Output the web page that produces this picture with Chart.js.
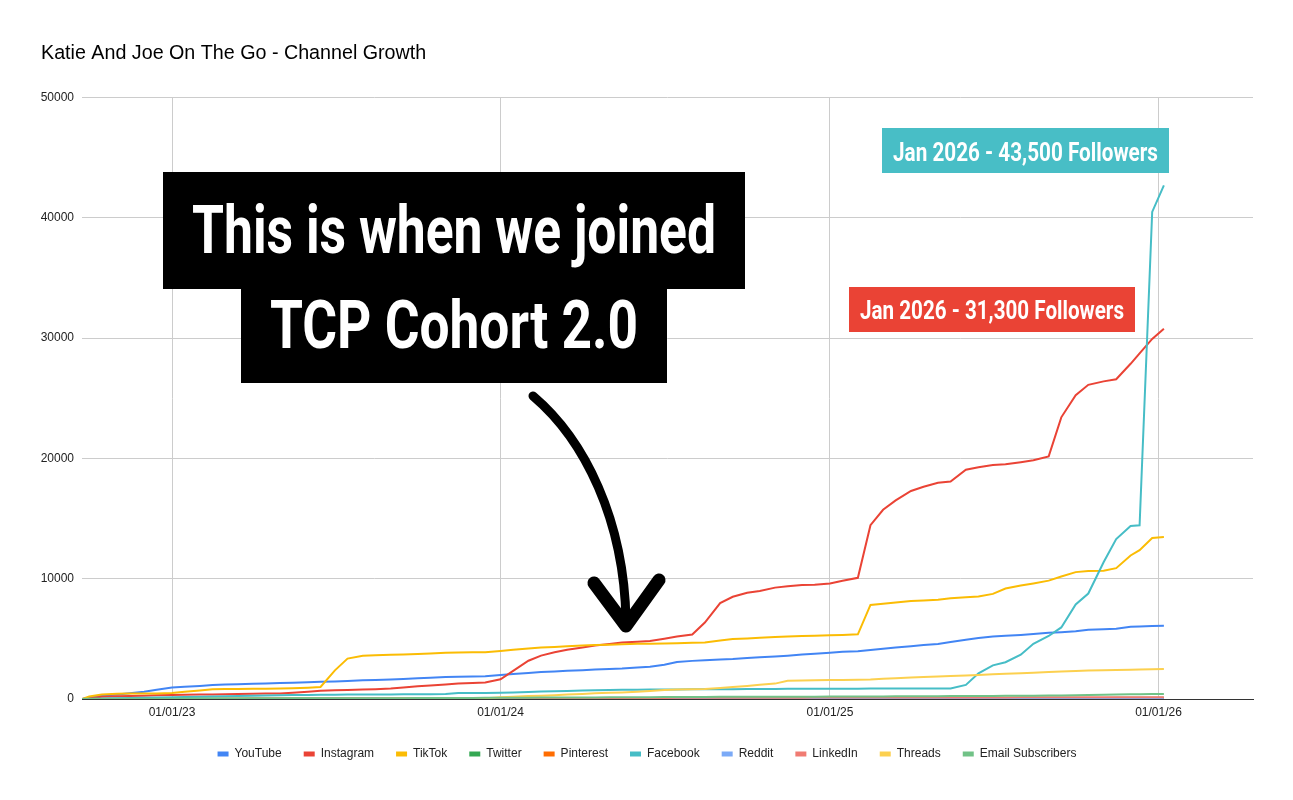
<!DOCTYPE html>
<html>
<head>
<meta charset="utf-8">
<title>Katie And Joe On The Go - Channel Growth</title>
<script src="https://cdn.jsdelivr.net/npm/chart.js@4.4.1/dist/chart.umd.min.js"></script>
<style>
  html, body { margin: 0; padding: 0; background: #fff; }
  #wrap { width: 1293px; height: 800px; }
</style>
</head>
<body>
<div id="wrap"><canvas id="myChart" width="1293" height="800"></canvas></div>
<script>
const chartTitle = 'Katie And Joe On The Go - Channel Growth';

// sample dates (roughly twice a month)
const dates = [
  '2022-09-23','2022-10-01','2022-10-15','2022-11-01','2022-11-15','2022-12-01','2022-12-15',
  '2023-01-01','2023-01-15','2023-02-01','2023-02-15','2023-03-01','2023-03-15','2023-04-01','2023-04-15',
  '2023-05-01','2023-05-15','2023-06-01','2023-06-15','2023-07-01','2023-07-15','2023-08-01','2023-08-15',
  '2023-09-01','2023-09-15','2023-10-01','2023-10-15','2023-11-01','2023-11-15','2023-12-01','2023-12-15',
  '2024-01-01','2024-01-15','2024-02-01','2024-02-15','2024-03-01','2024-03-15','2024-04-01','2024-04-15',
  '2024-05-01','2024-05-15','2024-06-01','2024-06-15','2024-07-01','2024-07-15','2024-08-01','2024-08-15',
  '2024-09-01','2024-09-15','2024-10-01','2024-10-15','2024-11-01','2024-11-15','2024-12-01','2024-12-15',
  '2025-01-01','2025-01-15','2025-02-01','2025-02-15','2025-03-01','2025-03-15','2025-04-01','2025-04-15',
  '2025-05-01','2025-05-15','2025-06-01','2025-06-15','2025-07-01','2025-07-15','2025-08-01','2025-08-15',
  '2025-09-01','2025-09-15','2025-10-01','2025-10-15','2025-11-01','2025-11-15',
  '2025-12-01','2025-12-11','2025-12-25','2026-01-07'
];

const youtube = [0,130,300,370,470,610,770,
  950,1020,1090,1160,1200,1225,1260,1290,1320,1360,1400,1430,1465,1495,1550,1590,1630,1660,1720,1770,1830,1860,1880,1900,
  1990,2070,2170,2240,2290,2340,2400,2450,2490,2530,2610,2680,2840,3080,3170,3220,3290,3330,3410,3470,3540,3600,3690,3760,
  3850,3920,3980,4070,4180,4280,4390,4480,4580,4740,4930,5070,5200,5250,5330,5410,5500,5560,5630,5760,5800,5840,
  6000,6030,6070,6090];

const instagram = [0,70,180,220,250,280,305,
  330,350,370,380,400,415,430,450,465,520,600,680,720,750,780,820,870,950,1060,1130,1210,1280,1330,1370,
  1640,2340,3180,3610,3880,4090,4290,4450,4580,4690,4760,4820,5010,5190,5360,6360,7980,8500,8840,8980,9260,9370,9470,9490,
  9610,9840,10080,14450,15730,16510,17300,17650,17980,18090,19060,19270,19450,19510,19690,19850,20170,23420,25260,26120,26410,26590,
  27870,28730,29940,30790];

const tiktok = [0,200,380,440,455,460,465,
  500,600,710,810,830,840,845,855,865,890,940,1000,2380,3360,3590,3630,3670,3710,3750,3790,3840,3860,3880,3895,
  3990,4090,4200,4280,4330,4380,4440,4480,4520,4560,4590,4600,4620,4640,4680,4700,4870,4980,5040,5090,5150,5190,5230,5260,
  5300,5330,5380,7820,7920,8030,8150,8200,8260,8370,8470,8520,8740,9190,9430,9610,9840,10180,10550,10640,10670,10880,
  11930,12380,13390,13470];

const twitter = [0,5,10,12,15,18,20,
  22,25,26,28,30,31,33,35,36,38,40,41,42,44,45,46,48,50,51,52,54,55,56,58,
  60,61,62,63,64,65,66,67,68,69,70,70,71,72,72,73,74,75,75,76,77,78,78,79,
  80,80,81,82,82,83,84,84,85,86,86,87,88,88,89,90,90,91,92,92,93,94,
  95,95,96,96];

const pinterest = [0,2,4,5,6,8,9,
  10,11,12,13,14,15,16,17,18,19,20,21,22,23,24,25,26,27,28,29,30,31,32,33,
  34,35,35,36,36,37,38,38,39,40,40,41,42,42,43,44,44,45,46,46,47,48,48,49,
  50,50,51,52,52,53,54,54,55,56,56,57,58,58,59,60,60,61,62,62,63,64,
  64,65,65,66];

const facebook = [0,20,40,60,80,100,120,
  150,170,190,210,230,250,270,290,310,325,340,350,360,365,370,375,380,385,390,400,420,500,500,505,
  520,550,590,620,640,670,700,720,740,760,770,780,790,795,805,810,815,820,825,830,840,845,850,855,
  855,860,860,865,865,870,870,875,880,880,1170,2130,2800,3060,3680,4590,5240,5950,7860,8770,11370,13300,
  14390,14450,40500,42700];

const reddit = [0,0,0,0,0,0,0,
  0,0,0,0,0,2,3,4,5,6,7,8,9,10,10,11,12,12,13,14,14,15,16,16,
  17,18,18,19,20,20,21,22,22,23,24,24,25,25,26,26,27,27,28,28,29,29,30,30,
  31,31,32,32,33,33,34,34,35,35,36,36,37,37,38,38,39,39,40,40,41,41,
  42,42,43,43];

const linkedin = [0,0,0,0,0,0,0,
  5,5,8,10,12,15,18,20,22,25,28,30,32,35,38,40,42,45,48,50,52,55,58,60,
  62,65,68,70,72,75,78,80,82,85,88,90,92,95,98,100,102,104,106,108,110,112,114,116,
  118,120,121,122,124,125,126,128,129,130,131,132,134,135,136,137,138,139,140,141,142,143,
  144,145,146,147];

const threads = [null,null,null,null,null,null,null,
  null,null,null,null,null,null,null,null,null,null,null,null,null,0,5,10,15,20,25,30,35,40,45,55,
  150,190,240,270,320,370,420,470,520,550,610,670,740,790,810,830,920,1000,1090,1180,1280,1510,1540,1560,
  1580,1590,1600,1620,1690,1730,1780,1820,1870,1910,1960,2000,2050,2090,2150,2190,2240,2280,2330,2360,2390,2410,
  2440,2460,2480,2490];

const email = [0,0,5,10,15,20,25,
  30,32,35,38,40,42,45,48,50,52,55,58,60,62,65,68,70,72,75,78,80,85,90,95,
  100,105,110,115,120,125,130,135,140,145,150,155,160,165,170,175,178,180,182,185,188,190,192,195,
  198,200,205,210,215,220,225,230,235,240,245,250,255,260,270,280,290,300,320,340,360,380,
  395,405,415,420];

const seriesNames = ['YouTube','Instagram','TikTok','Twitter','Pinterest','Facebook','Reddit','LinkedIn','Threads','Email Subscribers'];
const seriesColors = ['#4285F4','#EA4335','#FBBC04','#34A853','#FF6D01','#46BDC6','#7BAAF7','#F07B72','#FCD04F','#71C287'];
const seriesValues = [youtube, instagram, tiktok, twitter, pinterest, facebook, reddit, linkedin, threads, email];

const xTickDates = ['2023-01-01','2024-01-01','2025-01-01','2026-01-01'];
const xTickLabels = ['01/01/23','01/01/24','01/01/25','01/01/26'];
const xStart = '2022-09-23';
const xEnd = '2026-04-16';

const ts = d => Date.parse(d);
const FONT = '"Liberation Sans", Arial, sans-serif';
const CALLOUT_FONT = 'Roboto, "Liberation Sans", sans-serif';

const datasets = seriesNames.map((name, i) => ({
  label: name,
  data: dates.map((d, k) => ({ x: ts(d), y: seriesValues[i][k] })),
  borderColor: seriesColors[i],
  backgroundColor: seriesColors[i],
  borderWidth: 2,
  pointRadius: 0,
  pointHoverRadius: 0,
  tension: 0,
  fill: false,
  spanGaps: false,
  order: seriesNames.length - i   // later series drawn on top, like the sheet
}));

// callouts and arrow drawn over the chart
const calloutPlugin = {
  id: 'callouts',
  afterDraw(chart) {
    const ctx = chart.ctx;
    ctx.save();
    ctx.textAlign = 'center';
    ctx.textBaseline = 'alphabetic';

    // big black note
    ctx.fillStyle = '#000';
    ctx.fillRect(163, 172, 582, 117);
    ctx.fillRect(241, 288, 426, 95);
    ctx.fillStyle = '#fff';
    ctx.font = 'bold 67px ' + CALLOUT_FONT;
    ctx.fillText('This is when we joined', 454, 253, 524);
    ctx.fillText('TCP Cohort 2.0', 454, 348, 368);

    // hand drawn arrow
    ctx.strokeStyle = '#000';
    ctx.lineCap = 'round';
    ctx.lineJoin = 'round';
    ctx.lineWidth = 9;
    ctx.beginPath();
    ctx.moveTo(533, 396);
    ctx.bezierCurveTo(585, 440, 624, 520, 626, 620);
    ctx.stroke();
    ctx.lineWidth = 13;
    ctx.beginPath();
    ctx.moveTo(594, 583);
    ctx.lineTo(626, 626);
    ctx.lineTo(659, 580);
    ctx.stroke();

    // end labels
    ctx.font = 'bold 26px ' + CALLOUT_FONT;
    ctx.fillStyle = '#48BEC6';
    ctx.fillRect(882, 128, 287, 45);
    ctx.fillStyle = '#fff';
    ctx.fillText('Jan 2026 - 43,500 Followers', 1025.5, 161, 265);

    ctx.fillStyle = '#EA4335';
    ctx.fillRect(849, 287, 286, 45);
    ctx.fillStyle = '#fff';
    ctx.fillText('Jan 2026 - 31,300 Followers', 992, 319, 264);
    ctx.restore();
  }
};

const ctx = document.getElementById('myChart').getContext('2d');
const myChart = new Chart(ctx, {
  type: 'line',
  data: { datasets: datasets },
  plugins: [calloutPlugin],
  options: {
    responsive: false,
    animation: false,
    devicePixelRatio: 1,
    layout: { padding: { left: 41, right: 40, top: 0, bottom: 30 } },
    plugins: {
      title: {
        display: true,
        text: chartTitle,
        align: 'start',
        color: '#000',
        font: { size: 19.7, weight: 'normal', family: FONT },
        padding: { top: 42, bottom: 32 }
      },
      legend: {
        position: 'bottom',
        labels: {
          boxWidth: 11,
          boxHeight: 5,
          padding: 22,
          color: '#222',
          font: { size: 12, family: FONT },
          sort: (a, b) => a.datasetIndex - b.datasetIndex,
          generateLabels: chart => Chart.defaults.plugins.legend.labels.generateLabels(chart)
            .map(l => Object.assign(l, { lineWidth: 0 }))
        }
      },
      tooltip: { enabled: false }
    },
    scales: {
      x: {
        type: 'linear',
        min: ts(xStart),
        max: ts(xEnd),
        afterBuildTicks: axis => { axis.ticks = xTickDates.map(d => ({ value: ts(d) })); },
        afterFit: axis => { axis.height = 27; },
        ticks: {
          autoSkip: false,
          maxRotation: 0,
          padding: 6,
          color: '#222',
          font: { size: 12, family: FONT },
          callback: (v, i) => xTickLabels[i]
        },
        grid: { color: '#cccccc', drawTicks: false },
        border: { color: '#333333', width: 1 }
      },
      y: {
        min: 0,
        max: 50000,
        afterFit: axis => { axis.width = 41; },
        ticks: {
          stepSize: 10000,
          padding: 8,
          color: '#222',
          font: { size: 12, family: FONT },
          callback: v => String(v)
        },
        grid: {
          color: c => (c.tick && c.tick.value === 0) ? 'rgba(0,0,0,0)' : '#cccccc',
          drawTicks: false
        },
        border: { display: false }
      }
    }
  }
});
</script>
</body>
</html>
